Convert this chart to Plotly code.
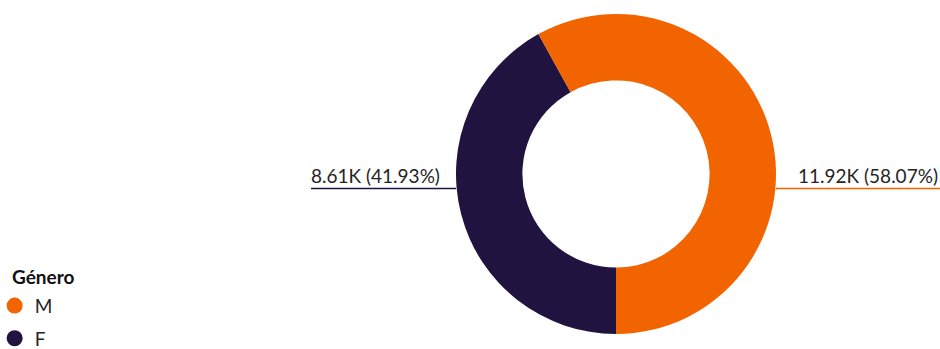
import plotly.graph_objects as go

labels = ["M", "F"]
values = [11920, 8610]
colors = ["#F26400", "#21133F"]
label_texts = ["11.92K (58.07%)", "8.61K (41.93%)"]
legend_title = "Género"

W, H = 940, 349
fig = go.Figure()
# F first, clockwise from 6 o'clock, so M runs up the right side
fig.add_trace(go.Pie(
    labels=labels[::-1], values=values[::-1], hole=0.585, sort=False,
    direction="clockwise", rotation=180,
    marker=dict(colors=colors[::-1], line=dict(width=0)),
    textinfo="none", hoverinfo="label+value+percent", showlegend=False,
    domain=dict(x=[456 / W, 776 / W], y=[15 / H, 335 / H]),
))
for lab, col in zip(labels, colors):
    fig.add_trace(go.Scatter(
        x=[None], y=[None], mode="markers", name=lab, legendgroup=lab,
        marker=dict(color=col, size=16, symbol="circle"),
    ))

font = "Lato, sans-serif"
ly = 1 - 188.5 / H
# right label (M)
fig.add_shape(type="line", xref="paper", yref="paper",
              x0=776 / W, x1=1.0, y0=ly, y1=ly, line=dict(color=colors[0], width=1.6))
fig.add_annotation(text=label_texts[0], xref="paper", yref="paper",
                   x=1.0, y=ly, xanchor="right", yanchor="bottom",
                   showarrow=False, font=dict(family=font, size=19, color="#252423"))
# left label (F)
fig.add_shape(type="line", xref="paper", yref="paper",
              x0=311 / W, x1=456 / W, y0=ly, y1=ly, line=dict(color=colors[1], width=1.6))
fig.add_annotation(text=label_texts[1], xref="paper", yref="paper",
                   x=309 / W, y=ly, xanchor="left", yanchor="bottom",
                   showarrow=False, font=dict(family=font, size=19, color="#252423"))
# legend title
fig.add_annotation(text="<b>" + legend_title + "</b>", xref="paper", yref="paper",
                   x=10 / W, y=1 - 276 / H, xanchor="left", yanchor="middle",
                   showarrow=False, font=dict(family=font, size=19, color="#111111"))

fig.update_layout(
    width=W, height=H, margin=dict(l=0, r=0, t=0, b=0, autoexpand=False),
    paper_bgcolor="white", plot_bgcolor="white",
    xaxis=dict(visible=False), yaxis=dict(visible=False),
    legend=dict(x=-0.0057, y=-0.025, xanchor="left", yanchor="bottom",
                font=dict(family=font, size=19, color="#252423"),
                itemsizing="trace", tracegroupgap=5, bgcolor="rgba(0,0,0,0)"),
)
fig.write_html("out.html")
